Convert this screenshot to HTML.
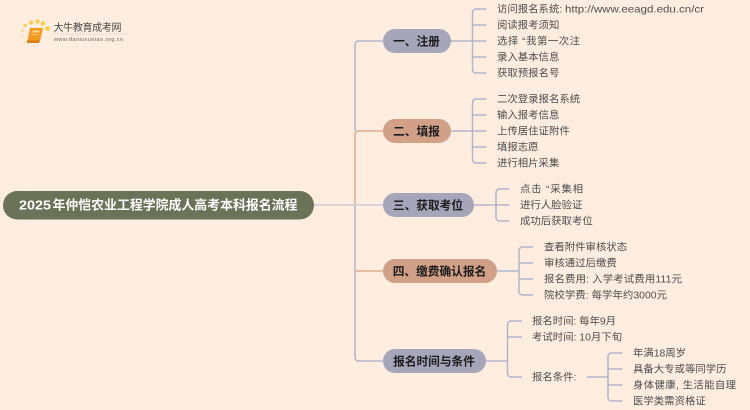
<!DOCTYPE html>
<html lang="zh">
<head>
<meta charset="utf-8">
<style>
html,body{margin:0;padding:0;background:#ffeee0;width:750px;height:410px;overflow:hidden}
svg{display:block}
text{font-family:"Liberation Sans","Noto Sans CJK SC",sans-serif}
.l{font-size:10.4px;fill:#4d4d4d}
.n{font-size:11.7px;font-weight:bold;fill:#1c1c1c;text-anchor:middle}
.p{fill:none;stroke:#b4b3cb;stroke-width:1.5}
.o{fill:none;stroke:#e0ac90;stroke-width:1.5}
</style>
</head>
<body>
<svg width="750" height="410" viewBox="0 0 750 410" xmlns="http://www.w3.org/2000/svg">
<defs><filter id="b" x="0" y="0" width="100%" height="100%"><feGaussianBlur stdDeviation="0.3"/></filter></defs>
<rect width="750" height="410" fill="#ffeee0"/>
<g filter="url(#b)">

<!-- trunk -->
<path class="p" d="M383 41H359Q355 41 355 45V131"/>
<path class="p" d="M355 205V357Q355 361 359 361H383"/>
<path class="o" d="M355 205V135Q355 131 359 131H383"/>
<path class="o" d="M356 271H383"/>
<path d="M314 205H383" fill="none" stroke="#d2c9d2" stroke-width="1.6"/>

<!-- branch 1 -->
<path class="p" d="M451 41H472.500M486.500 9H476.500Q472.500 9 472.500 13V69Q472.500 73 476.500 73H486.500M472.500 25H486.500M472.500 41H486.500M472.500 57H486.500"/>
<!-- branch 2 -->
<path class="p" d="M451 131H472.500M486.500 99H476.500Q472.500 99 472.500 103V159Q472.500 163 476.500 163H486.500M472.500 115H486.500M472.500 131H486.500M472.500 147H486.500"/>
<!-- branch 3 -->
<path class="p" d="M474 205H496M509.500 189H500Q496 189 496 193V217Q496 221 500 221H509.500M496 205H509.500"/>
<!-- branch 4 -->
<path class="p" d="M497 271H519M533 247H523Q519 247 519 251V291Q519 295 523 295H533M519 263H533M519 279H533"/>
<!-- branch 5 -->
<path class="p" d="M486 361H507.500M522 321H511.500Q507.500 321 507.500 325V373Q507.500 377 511.500 377H522M507.500 337H522"/>
<path class="p" d="M587 377H608M622.500 353H612Q608 353 608 357V397Q608 401 612 401H622.500M608 369H622.500M608 385H622.500"/>

<!-- nodes -->
<rect x="3" y="191" width="311" height="28.500" rx="14.200" fill="#6a7258"/>
<rect x="383" y="29" width="68" height="24" rx="12" fill="#a6a5ba"/>
<rect x="383" y="119" width="68" height="24" rx="12" fill="#d2a086"/>
<rect x="383" y="193" width="91" height="24" rx="12" fill="#a6a5ba"/>
<rect x="383" y="259" width="114" height="24" rx="12" fill="#d2a086"/>
<rect x="383" y="349" width="103" height="24" rx="12" fill="#a6a5ba"/>

<text x="19" y="209.500" font-size="12.900" font-weight="bold" fill="#fff" textLength="32" lengthAdjust="spacingAndGlyphs">2025</text>
<text x="52.500" y="209.500" font-size="12.900" font-weight="bold" fill="#fff">年仲恺农业工程学院成人高考本科报名流程</text>
<text class="n" x="416.500" y="45.300">一、注册</text>
<text class="n" x="416.500" y="135.300">二、填报</text>
<text class="n" x="428" y="209.300">三、获取考位</text>
<text class="n" x="439.500" y="275.300">四、缴费确认报名</text>
<text class="n" x="434" y="365.300">报名时间与条件</text>

<!-- leaves -->
<text class="l" x="497" y="12.500">访问报名系统:</text>
<text class="l" x="565" y="12.500" textLength="139" lengthAdjust="spacingAndGlyphs">http://www.eeagd.edu.cn/cr</text>
<text class="l" x="497" y="28.500">阅读报考须知</text>
<text class="l" x="497" y="44.500" textLength="83" lengthAdjust="spacing">选择 “我第一次注</text>
<text class="l" x="497" y="60.500">录入基本信息</text>
<text class="l" x="497" y="76.500">获取预报名号</text>

<text class="l" x="497" y="102.500">二次登录报名系统</text>
<text class="l" x="497" y="118.500">输入报考信息</text>
<text class="l" x="497" y="134.500">上传居住证附件</text>
<text class="l" x="497" y="150.500">填报志愿</text>
<text class="l" x="497" y="166.500">进行相片采集</text>

<text class="l" x="520" y="192.500" textLength="63" lengthAdjust="spacing">点击 “采集相</text>
<text class="l" x="520" y="208.500">进行人脸验证</text>
<text class="l" x="520" y="224.500">成功后获取考位</text>

<text class="l" x="544" y="250.500">查看附件审核状态</text>
<text class="l" x="544" y="266.500">审核通过后缴费</text>
<text class="l" x="544" y="282.500" textLength="138" lengthAdjust="spacing">报名费用: 入学考试费用111元</text>
<text class="l" x="544" y="298.500" textLength="123" lengthAdjust="spacing">院校学费: 每学年约3000元</text>

<text class="l" x="532" y="324.500" textLength="84" lengthAdjust="spacing">报名时间: 每年9月</text>
<text class="l" x="532" y="340.500" textLength="90" lengthAdjust="spacing">考试时间: 10月下旬</text>
<text class="l" x="532" y="380.500">报名条件:</text>

<text class="l" x="633" y="356.500" textLength="53" lengthAdjust="spacing">年满18周岁</text>
<text class="l" x="633" y="372.500">具备大专或等同学历</text>
<text class="l" x="633" y="388.500" textLength="103" lengthAdjust="spacing">身体健康, 生活能自理</text>
<text class="l" x="633" y="404.500">医学类需资格证</text>

<!-- logo -->
<circle cx="25" cy="25.500" r="1.800" fill="#fbd25f"/>
<circle cx="31" cy="22.500" r="2.100" fill="#fbcf55"/>
<circle cx="37.500" cy="21.500" r="2.100" fill="#fbcb4b"/>
<circle cx="43" cy="23.500" r="2.200" fill="#fbc842"/>
<circle cx="47.500" cy="28.500" r="2.400" fill="#fccb45"/>
<circle cx="22.500" cy="30.500" r="1.400" fill="#fbdc86"/>
<circle cx="22" cy="37" r="1.200" fill="#fbe3a0"/>
<circle cx="24" cy="42.500" r="1" fill="#fbe3a0"/>
<path d="M30 28H43L40 41H28.500L27 43Z" fill="#f59a1c"/>
<path d="M27 40.500H40L39 43H28Q26.500 43 27 40.500Z" fill="#dc7a14"/>
<path d="M32 30.500H40L39.500 32.500H31.500Z" fill="#ffd487"/>
<path d="M31.300 34H38.500L38.300 35H31Z" fill="#ffc66a"/>
<text x="53.500" y="31" font-size="10" fill="#444" textLength="68" lengthAdjust="spacing">大牛教育成考网</text>
<rect x="53" y="33.500" width="78" height="1" fill="#e8ddd3"/>
<text x="54" y="41" font-size="5.500" fill="#666" textLength="69" lengthAdjust="spacing">www.daniuxueiao.org.cn</text>
</g>
</svg>
</body>
</html>
